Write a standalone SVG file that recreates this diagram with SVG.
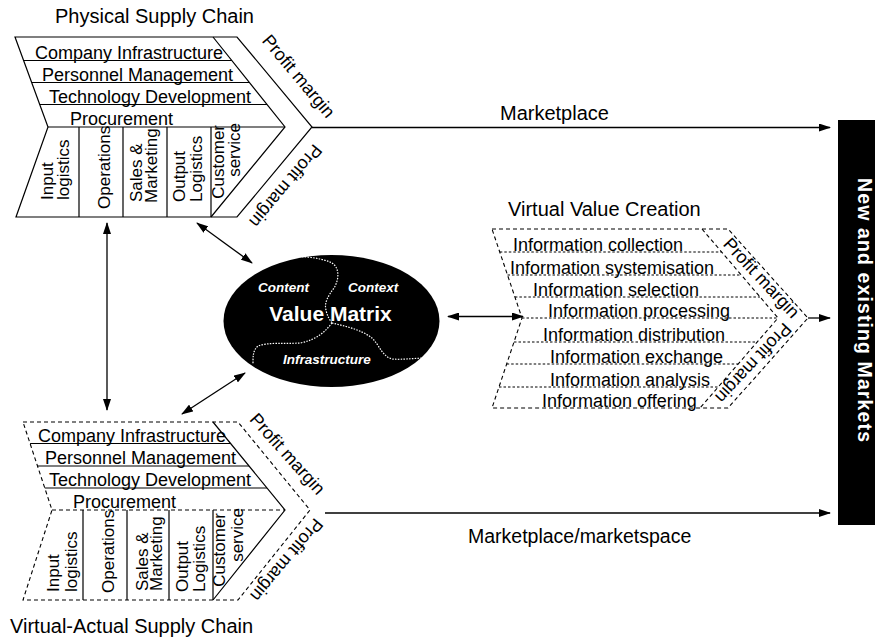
<svg xmlns="http://www.w3.org/2000/svg" width="875" height="639" viewBox="0 0 875 639">
<defs>
<marker id="ah" viewBox="0 0 12 8" refX="11" refY="4" markerWidth="12" markerHeight="8" markerUnits="userSpaceOnUse" orient="auto-start-reverse"><path d="M0,0 L12,4 L0,8 Z" fill="#000"/></marker>
<style>
text{font-family:"Liberation Sans",Arial,Helvetica,sans-serif;fill:#000}
.t20{font-size:20px}
.t18{font-size:18px}
.t17{font-size:17px}
.ln{stroke:#000;stroke-width:1.2;fill:none}
.dash{stroke:#000;stroke-width:1.1;fill:none;stroke-dasharray:4 3}
.dot{stroke:#000;stroke-width:1;fill:none;stroke-dasharray:2.5 2}
.wd{stroke:#fff;stroke-width:1.2;fill:none;stroke-dasharray:1.5 1.3}
.arr{stroke:#000;stroke-width:1.3;fill:none;marker-end:url(#ah)}
.arr2{stroke:#000;stroke-width:1.3;fill:none;marker-start:url(#ah);marker-end:url(#ah)}
.wt{fill:#fff}
.mid{text-anchor:middle}
.end{text-anchor:end}
</style>
</defs>
<rect width="875" height="639" fill="#fff"/>

<g id="physical-supply-chain">
<text class="t20" x="55" y="23">Physical Supply Chain</text>
<path class="ln" d="M15,37 L237,37 L312,127 L237,217 L16,217 L48,127 Z"/>
<path class="ln" d="M213,37 L285,127 L211,217"/>
<path class="ln" d="M23.6,60.5 H231.8 M31.7,82.5 H249.4 M39.8,104.5 H267 M48,127 H285"/>
<path class="ln" d="M79,127 V217 M123,127 V217 M167,127 V217 M211,127 V217"/>
<text class="t18" x="35" y="59">Company Infrastructure</text>
<text class="t18" x="42" y="81">Personnel Management</text>
<text class="t18" x="49" y="103">Technology Development</text>
<text class="t18" x="70" y="125">Procurement</text>
<text class="t17" transform="translate(53,200) rotate(-90)">Input</text>
<text class="t17" transform="translate(68.5,200) rotate(-90)">logistics</text>
<text class="t17" transform="translate(110,209) rotate(-90)">Operations</text>
<text class="t17" transform="translate(141.5,202) rotate(-90)">Sales &amp;</text>
<text class="t17" transform="translate(157,203) rotate(-90)">Marketing</text>
<text class="t17" transform="translate(185,202) rotate(-90)">Output</text>
<text class="t17" transform="translate(201.5,202) rotate(-90)">Logistics</text>
<text class="t17 end" transform="translate(223.5,125) rotate(-90)">Customer</text>
<text class="t17 end" transform="translate(240,123) rotate(-90)">service</text>
<text class="t18 mid" transform="translate(294,80) rotate(50)">Profit margin</text>
<text class="t18 mid" transform="translate(281,182) rotate(130)">Profit margin</text>
</g>

<g id="virtual-actual-supply-chain">
<path class="dash" d="M23,422 L238,422 L310,510 L238,600 L23,600 L52,510 Z"/>
<path class="ln" d="M213,422 L285,510 L213,600"/>
<path class="ln" d="M30.1,443.5 H230.6 M37.5,466 H249 M44.8,488 H267"/>
<path class="dash" d="M52,510 H285"/>
<path class="ln" d="M83,510 V600 M127,510 V600 M169,510 V600 M213,510 V600"/>
<text class="t18" x="38" y="442">Company Infrastructure</text>
<text class="t18" x="45" y="464">Personnel Management</text>
<text class="t18" x="49" y="486">Technology Development</text>
<text class="t18" x="73" y="508">Procurement</text>
<text class="t17" transform="translate(59,592) rotate(-90)">Input</text>
<text class="t17" transform="translate(76.5,592) rotate(-90)">logistics</text>
<text class="t17" transform="translate(113.5,593) rotate(-90)">Operations</text>
<text class="t17" transform="translate(147.5,591) rotate(-90)">Sales &amp;</text>
<text class="t17" transform="translate(162,591) rotate(-90)">Marketing</text>
<text class="t17" transform="translate(188,592) rotate(-90)">Output</text>
<text class="t17" transform="translate(205,592) rotate(-90)">Logistics</text>
<text class="t17 end" transform="translate(225,513) rotate(-90)">Customer</text>
<text class="t17 end" transform="translate(243,508) rotate(-90)">service</text>
<text class="t18 mid" transform="translate(283,458) rotate(48)">Profit margin</text>
<text class="t18 mid" transform="translate(282,556) rotate(130)">Profit margin</text>
<text class="t20" x="10" y="633">Virtual-Actual Supply Chain</text>
</g>

<g id="value-matrix">
<ellipse cx="331.5" cy="321" rx="108" ry="66" fill="#000"/>
<path class="wd" d="M288,257 C300,256 320,257 332,263 C340,268 339,280 334,288 C328,296 324,303 326,310 C327,316 330,320 332,323"/>
<path class="wd" d="M332,323 C325,332 316,340 300,343 C285,344 268,342 258,346 C253,350 253,356 253,364"/>
<path class="wd" d="M332,323 C345,326 362,330 372,338 C380,346 382,356 392,359 C402,360 415,358 427,358"/>
<text class="wt" x="258" y="292" style="font-size:13.5px;font-weight:bold;font-style:italic">Content</text>
<text class="wt" x="348" y="292" style="font-size:13.5px;font-weight:bold;font-style:italic">Context</text>
<text class="wt mid" x="330.5" y="321" style="font-size:21px;font-weight:bold">Value Matrix</text>
<text class="wt" x="283" y="364" style="font-size:13.5px;font-weight:bold;font-style:italic">Infrastructure</text>
</g>

<g id="virtual-value-creation">
<text class="t20" x="508" y="216">Virtual Value Creation</text>
<path class="dash" d="M492,229 L728,229 L808,318 L728,408 L492,408 L522,318 Z"/>
<path class="dash" d="M702,229 L778,318 L700,408"/>
<path class="dot" d="M499.8,252 H721.6 M507.5,275 H741.3 M514.9,297 H760 M522,318 H778 M514,342 H757.2 M506.7,364 H738.1 M499,387 H718.2"/>
<text class="t18" x="513" y="251">Information collection</text>
<text class="t18" x="510" y="274">Information systemisation</text>
<text class="t18" x="533" y="296">Information selection</text>
<text class="t18" x="548" y="317">Information processing</text>
<text class="t18" x="543" y="341">Information distribution</text>
<text class="t18" x="550" y="363">Information exchange</text>
<text class="t18" x="550" y="386">Information analysis</text>
<text class="t18" x="542" y="407">Information offering</text>
<text class="t18 mid" transform="translate(757,282) rotate(47)">Profit margin</text>
<text class="t18 mid" transform="translate(749,359) rotate(133)">Profit margin</text>
</g>

<g id="markets">
<rect x="838" y="120" width="37" height="405" fill="#000"/>
<text class="wt mid" transform="translate(857.5,310) rotate(90)" style="font-size:19.5px;font-weight:bold" textLength="264" lengthAdjust="spacing">New  and existing Markets</text>
</g>

<g id="connectors">
<path class="arr" d="M312,127.5 H830"/>
<path class="arr" d="M808,318 H830"/>
<path class="arr" d="M325,513 H830"/>
<path class="arr2" d="M448,316.5 H523"/>
<path class="arr2" d="M197,223 L252,263"/>
<path class="arr2" d="M107,223 V410"/>
<path class="arr2" d="M245,373 L182,414"/>
<text class="t20" x="500" y="120">Marketplace</text>
<text class="t20" x="468" y="543" style="font-size:19.5px">Marketplace/marketspace</text>
</g>
</svg>
